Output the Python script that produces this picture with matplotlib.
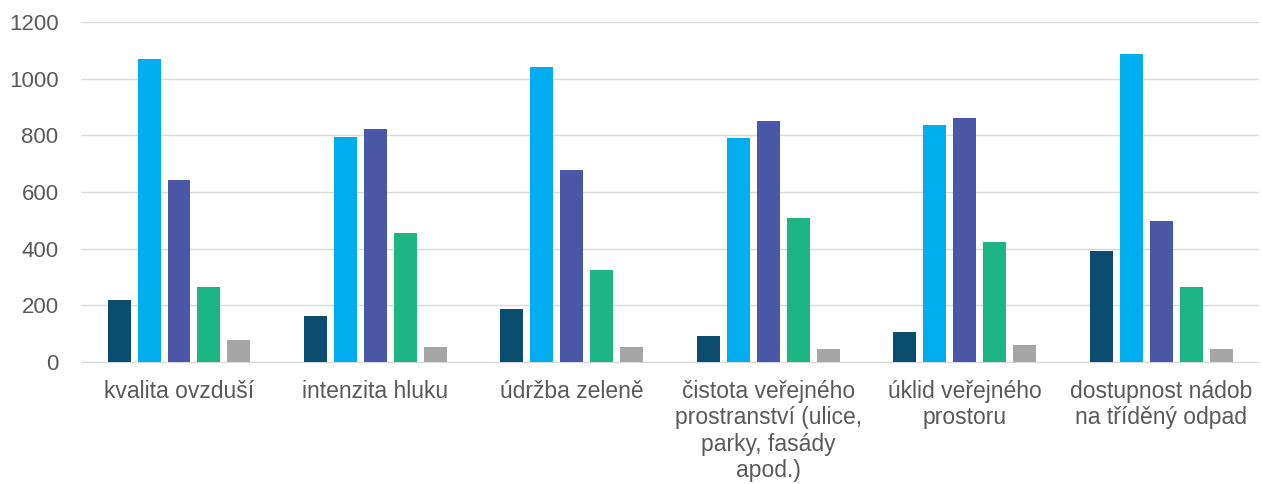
import numpy as np
import matplotlib.pyplot as plt

plt.rcParams['font.family'] = ['Liberation Sans', 'DejaVu Sans']

categories = ["kvalita ovzduší", "intenzita hluku", "údržba zeleně",
              "čistota veřejného\nprostranství (ulice,\nparky, fasády\napod.)",
              "úklid veřejného\nprostoru", "dostupnost nádob\nna tříděný odpad"]
s1 = [219, 162, 187, 92, 106, 392]
s2 = [1069, 794, 1041, 791, 836, 1087]
s3 = [642, 822, 678, 851, 861, 498]
s4 = [265, 455, 325, 508, 424, 265]
s5 = [78, 53, 53, 46, 60, 46]
series = [s1, s2, s3, s4, s5]
colors = ['#0b4d6e', '#00aeef', '#4a56a6', '#1cb583', '#a6a6a6']

fig = plt.figure(figsize=(12.62, 4.84), dpi=100)
ax = fig.add_axes([0.064, 0.252, 0.934, 0.7025])

x = np.arange(len(categories))
pitch = 0.1525
width = 0.117
for i, (vals, c) in enumerate(zip(series, colors)):
    ax.bar(x + (i - 2) * pitch, vals, width=width, color=c, zorder=3)

ax.set_xlim(-0.5, len(categories) - 0.5)
ax.set_ylim(0, 1200)
ax.set_yticks(range(0, 1201, 200))
ax.yaxis.grid(True, color='#d9d9d9', linewidth=1)
ax.set_axisbelow(True)
for s in ['top', 'right', 'left']:
    ax.spines[s].set_visible(False)
ax.spines['bottom'].set_color('#d9d9d9')
ax.tick_params(axis='both', length=0, labelsize=16, colors='#595959')
ax.tick_params(axis='x', pad=13, labelsize=16.5)
ax.tick_params(axis='y', pad=16)
ax.set_xticks(x)
ax.set_xticklabels(categories, linespacing=1.18, va='top')

fig.savefig('out.png', dpi=100)
